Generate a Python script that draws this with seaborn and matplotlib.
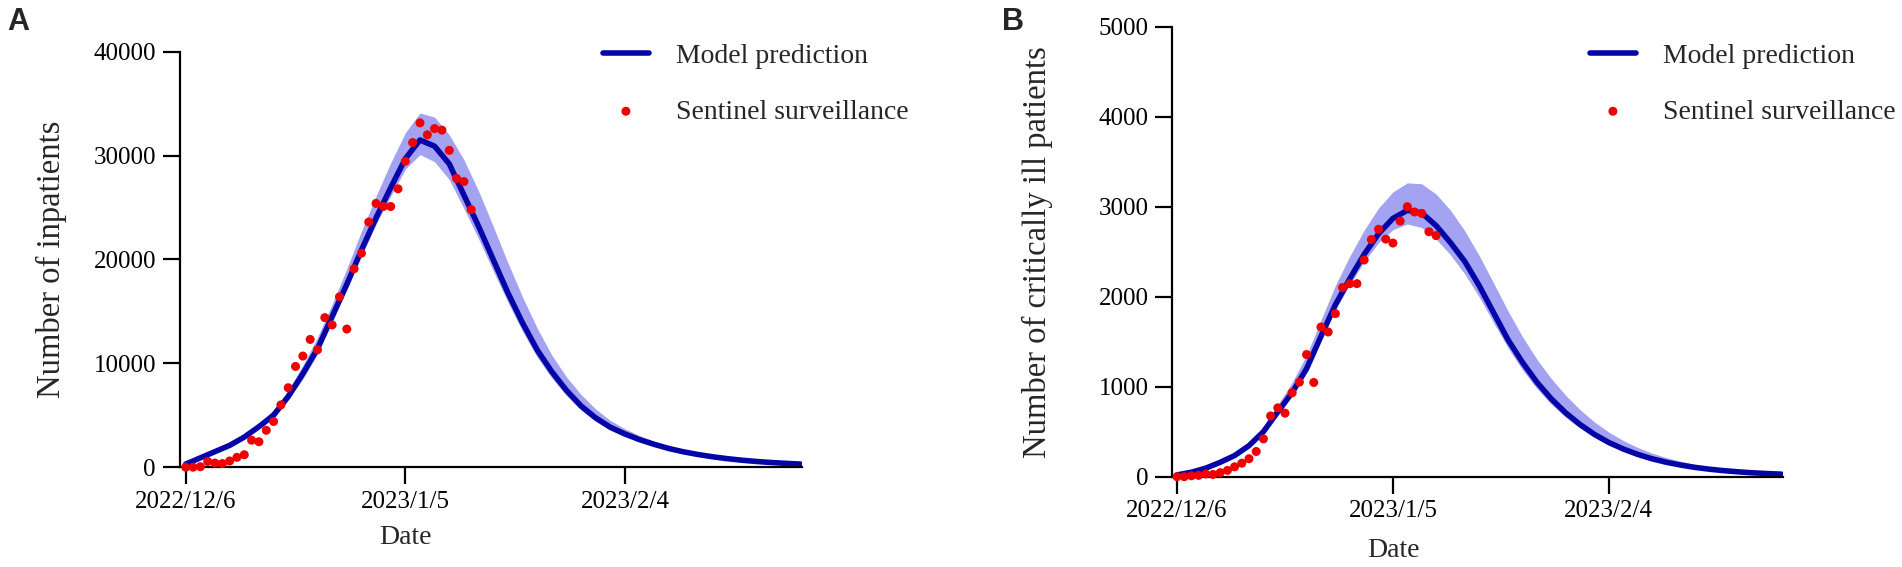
import matplotlib
matplotlib.use('Agg')
import matplotlib.pyplot as plt
import seaborn as sns

# x axis: days since 2022/12/6
tick_days = [0, 30, 60]
tick_labels = ['2022/12/6', '2023/1/5', '2023/2/4']
model_day = list(range(0, 85, 2))
inpat_day = list(range(40))
crit_day = list(range(37))

# Panel A - inpatients
inpat_mid = [300, 900, 1500, 2100, 2900, 3900, 5000, 6800, 9000, 11400,
             14500, 17600, 20900, 24000, 26900, 29700, 31500, 30900, 29200, 26200,
             23200, 20000, 16800, 13900, 11300, 9200, 7400, 5900, 4750, 3850,
             3200, 2650, 2200, 1800, 1480, 1220, 1000, 820, 670, 550,
             450, 370, 300]
inpat_up = [300, 950, 1600, 2300, 3150, 4250, 5550, 7400, 9800, 12500,
            15700, 19100, 22700, 26100, 29300, 32200, 34100, 33700, 32000, 29600,
            26600, 23200, 19700, 16400, 13400, 10800, 8700, 7000, 5600, 4500,
            3700, 3050, 2500, 2050, 1700, 1400, 1150, 950, 780, 640,
            520, 430, 350]
inpat_lo = [300, 880, 1450, 2000, 2800, 3750, 4850, 6500, 8500, 10900,
            14000, 17100, 20300, 23400, 26100, 28700, 30100, 29400, 27700, 24900,
            22000, 18900, 15900, 13100, 10600, 8600, 6900, 5500, 4400, 3550,
            2950, 2450, 2000, 1650, 1350, 1100, 900, 740, 610, 500,
            410, 340, 280]
inpat_obs = [0, 0, 50, 550, 400, 350, 600, 950, 1200, 2600,
             2450, 3550, 4400, 6000, 7650, 9700, 10700, 12300, 11300, 14400,
             13700, 16400, 13300, 19100, 20600, 23600, 25400, 25100, 25100, 26800,
             29450, 31250, 33150, 32000, 32600, 32450, 30500, 27800, 27500, 24800]

# Panel B - critically ill
crit_mid = [20, 50, 95, 160, 235, 345, 500, 720, 935, 1200,
            1560, 1910, 2200, 2470, 2700, 2870, 2960, 2930, 2790, 2600,
            2390, 2120, 1820, 1520, 1270, 1050, 865, 710, 580, 470,
            380, 308, 248, 199, 160, 129, 103, 83, 67, 54,
            43, 35, 28]
crit_up = [25, 58, 105, 180, 265, 385, 555, 800, 1050, 1350,
           1740, 2125, 2450, 2740, 2985, 3165, 3265, 3255, 3140, 2960,
           2730, 2455, 2150, 1840, 1555, 1305, 1090, 905, 745, 608,
           495, 402, 325, 262, 212, 171, 137, 110, 88, 71,
           56, 45, 36]
crit_lo = [18, 45, 88, 150, 222, 328, 480, 695, 905, 1170,
           1520, 1855, 2135, 2390, 2600, 2745, 2808, 2768, 2640, 2465,
           2250, 1995, 1710, 1430, 1187, 980, 805, 660, 540, 437,
           352, 285, 230, 185, 149, 120, 96, 77, 62, 50,
           40, 32, 26]
crit_obs = [0, 0, 10, 15, 30, 25, 45, 70, 110, 150,
            200, 280, 420, 675, 765, 706, 933, 1051, 1357, 1047,
            1663, 1608, 1812, 2102, 2145, 2145, 2408, 2635, 2749, 2640,
            2596, 2840, 3000, 2941, 2926, 2722, 2679]

LINE = '#0505a8'
BAND = '#a3a3f2'
DOT = '#f00000'

sns.set_style('ticks')
plt.rcParams['font.family'] = ['Liberation Serif', 'DejaVu Serif']

W, H = 1902, 567
fig = plt.figure(figsize=(W / 100, H / 100), dpi=100)


def draw_panel(rect, mid, up, lo, days, obs, ymax, ystep, ylabel, xlim,
               ylab_x, date_x, date_y, leg_x, letter, letter_x):
    ax = fig.add_axes(rect)
    ax.fill_between(model_day, lo, up, color=BAND, lw=0, zorder=1)
    sns.lineplot(x=model_day, y=mid, ax=ax, color=LINE, lw=4.0,
                 label='Model prediction', zorder=2, solid_joinstyle='round',
                 solid_capstyle='round')
    sns.scatterplot(x=days, y=obs, ax=ax, color=DOT, s=42, edgecolor='none',
                    label='Sentinel surveillance', zorder=3, clip_on=False)

    ax.set_xlim(*xlim)
    ax.set_ylim(0, ymax)
    ax.set_xticks(tick_days, tick_labels)
    ax.set_yticks(range(0, ymax + 1, ystep))
    sns.despine(ax=ax)
    for s in ['left', 'bottom']:
        ax.spines[s].set_linewidth(1.6)
        ax.spines[s].set_color('black')
    ax.tick_params(length=12, width=1.6, pad=5, labelsize=18, colors='black')

    ax.set_xlabel('Date', fontsize=20)
    ax.set_ylabel(ylabel, fontsize=23.5)
    ax.xaxis.label.set_va('center')
    ax.yaxis.label.set_va('center')
    ax.xaxis.set_label_coords(date_x, date_y)
    ax.yaxis.set_label_coords(ylab_x, 0.5)

    ax.legend(loc='upper left', bbox_to_anchor=(leg_x, 0.923),
              bbox_transform=fig.transFigure, frameon=False, fontsize=20,
              handlelength=1.65, handletextpad=0.97, labelspacing=1.08,
              borderpad=0, borderaxespad=0)

    fig.text(letter_x, 1 - 22 / H, letter, fontsize=22, fontweight='bold',
             family='Liberation Sans', ha='center', va='center')
    return ax


draw_panel([179.5 / W, 99.8 / H, 622.6 / W, 415.5 / H],
           inpat_mid, inpat_up, inpat_lo, inpat_day, inpat_obs, 40000, 10000,
           'Number of inpatients', (-0.85, 84.2),
           -0.205, 0.363, -0.168, 603 / W, 'A', 18 / W)

draw_panel([1172 / W, 90.3 / H, 611 / W, 450 / H],
           crit_mid, crit_up, crit_lo, crit_day, crit_obs, 5000, 1000,
           'Number of critically ill patients', (-0.7, 84.2),
           -0.221, 0.362, -0.165, 1590 / W, 'B', 1013 / W)

fig.savefig('out.png', dpi=100)
